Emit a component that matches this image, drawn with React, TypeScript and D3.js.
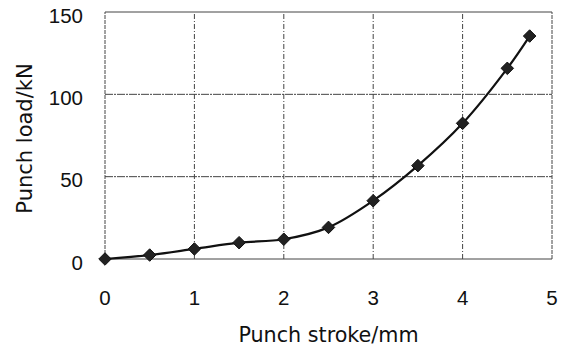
import React from "react";
import * as d3 from "d3";

const strokes = [0, 0.5, 1, 1.5, 2, 2.5, 3, 3.5, 4, 4.5, 4.75];
const loads = [0, 2.4, 6.1, 9.9, 12, 19.2, 35.4, 56.7, 82.4, 115.8, 135.4];
const xTicks = [0, 1, 2, 3, 4, 5];
const yTicks = [0, 50, 100, 150];

const W = 570, H = 351;
const M = { left: 105, right: 18, top: 12, bottom: 92 };

export default function App() {
  const x = d3.scaleLinear().domain([0, 5]).range([M.left, W - M.right]);
  const y = d3.scaleLinear().domain([0, 150]).range([H - M.bottom, M.top]);
  const line = d3.line<number>().x((_, i) => x(strokes[i])).y((d) => y(d)).curve(d3.curveCatmullRom.alpha(0.5));
  const tickFont = "'Liberation Sans', Arial, sans-serif";
  const titleFont = "'DejaVu Sans', sans-serif";
  const diamond = d3.symbol().type(d3.symbolDiamond2).size(100)() as string;
  return (
    <svg width={W} height={H} style={{ position: "absolute", left: 0, top: 0, background: "#fff" }}>
      <rect x={0} y={0} width={W} height={H} fill="#fff" />
      {yTicks.map((t) => (
        <line key={"hy" + t} x1={x(0)} x2={x(5)} y1={y(t)} y2={y(t)} stroke="#444" strokeWidth={1} strokeDasharray={t === 0 || t === 150 ? "" : "8,1,2,1"} />
      ))}
      {xTicks.map((t) => (
        <line key={"vx" + t} x1={x(t)} x2={x(t)} y1={y(0)} y2={y(150)} stroke="#444" strokeWidth={1} strokeDasharray={t === 0 || t === 5 ? "4,1" : "5,2,1,2"} />
      ))}
      <path d={line(loads) || ""} fill="none" stroke="#111" strokeWidth={2.2} />
      {loads.map((d, i) => (
        <path key={"m" + i} d={diamond} transform={`translate(${x(strokes[i])},${y(d)})`} fill="#222" stroke="#111" strokeWidth={1} />
      ))}
      {yTicks.map((t) => (
        <text key={"ty" + t} x={83} y={y(t) + 10.5} textAnchor="end" fontFamily={tickFont} fontSize={20.5} fill="#111">{t}</text>
      ))}
      {xTicks.map((t) => (
        <text key={"tx" + t} x={x(t)} y={305} textAnchor="middle" fontFamily={tickFont} fontSize={20.5} fill="#111">{t}</text>
      ))}
      <text x={(x(0) + x(5)) / 2} y={342} textAnchor="middle" fontFamily={titleFont} fontSize={20.7} fill="#111">Punch stroke/mm</text>
      <text transform={`translate(32,${(y(0) + y(150)) / 2 + 3}) rotate(-90)`} textAnchor="middle" fontFamily={titleFont} fontSize={21} fill="#111">Punch load/kN</text>
    </svg>
  );
}
